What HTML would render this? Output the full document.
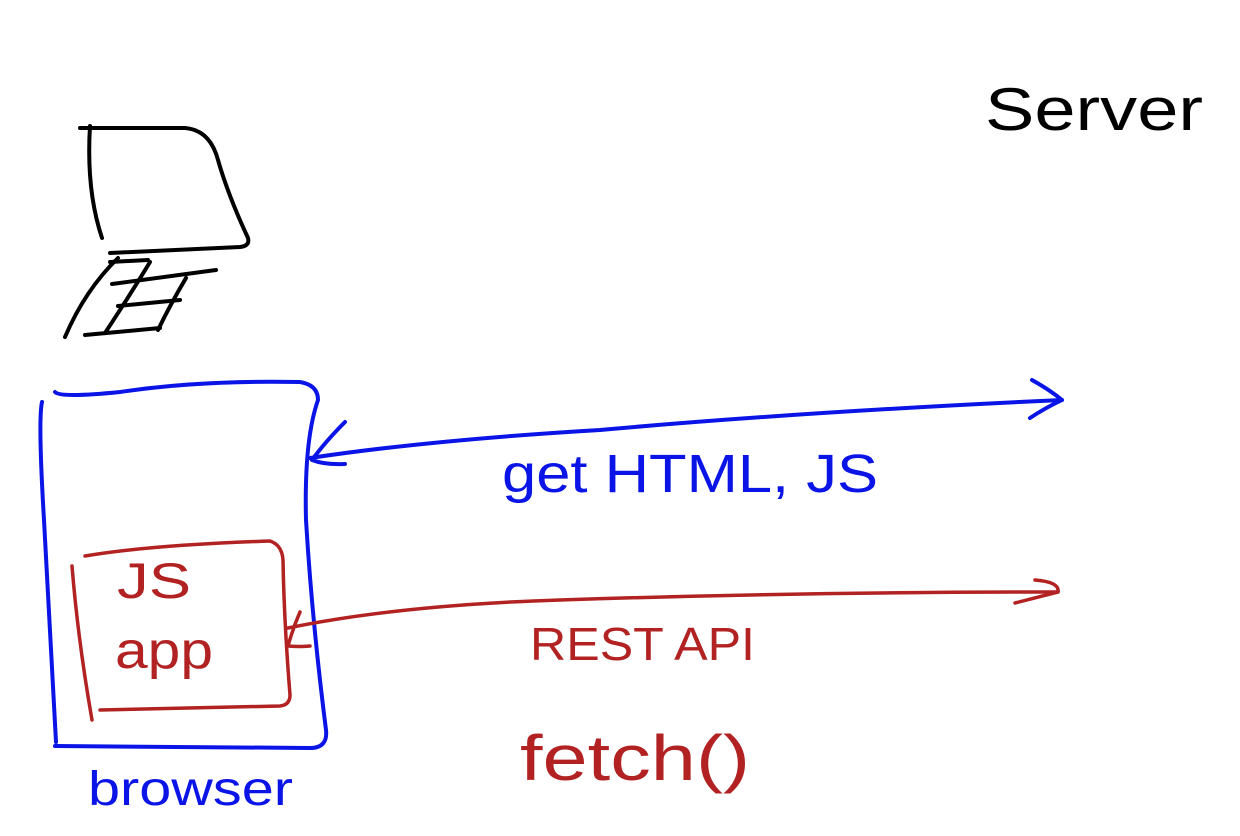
<!DOCTYPE html>
<html><head><meta charset="utf-8"><style>
html,body{margin:0;padding:0;background:#fff;}
svg{display:block;}
text{font-family:"Liberation Sans",sans-serif;}
</style></head><body>
<svg width="1240" height="836" viewBox="0 0 1240 836" xmlns="http://www.w3.org/2000/svg" fill="none" stroke-linecap="round" stroke-linejoin="round">
<g stroke="#000" stroke-width="4">
<path d="M80 128 L185 128 Q210 130 218 160 Q228 195 248 238 Q250 246 240 247 L110 253"/>
<path d="M90 126 Q86 190 102 238"/>
<path d="M118 258 Q85 290 65 337"/>
<path d="M110 262 L148 260"/>
<path d="M112 284 L216 270"/>
<path d="M150 262 Q130 295 105 333"/>
<path d="M186 278 Q170 305 158 330"/>
<path d="M118 306 L180 300"/>
<path d="M85 335 L160 328"/>
</g>
<text x="985" y="130" font-size="60" fill="#000" textLength="218" lengthAdjust="spacingAndGlyphs">Server</text>
<g stroke="#0a14e6" stroke-width="4">
<path d="M55 392 Q60 398 120 392 Q200 380 300 382 Q318 385 318 400 Q304 440 306 520 Q312 620 326 730 Q328 748 310 748 L55 746"/>
<path d="M42 402 Q38 420 44 520 Q50 640 56 742"/>
<path d="M310 458 Q430 440 600 430 Q800 412 1062 400"/>
<path d="M1032 380 Q1050 390 1062 400 Q1045 408 1030 418"/>
<path d="M345 422 Q325 442 312 460 Q325 465 345 464"/>
</g>
<text x="502" y="492" font-size="54" fill="#0a14e6" textLength="376" lengthAdjust="spacingAndGlyphs">get HTML, JS</text>
<text x="88" y="805" font-size="48" fill="#0a14e6" textLength="205" lengthAdjust="spacingAndGlyphs">browser</text>
<g stroke="#b22222" stroke-width="3.5">
<path d="M85 556 Q150 545 270 541 Q282 545 283 560 Q284 620 290 695 Q290 705 280 706 L100 710"/>
<path d="M72 566 Q78 640 92 720"/>
<path d="M288 628 Q400 605 560 600 Q800 592 1058 592"/>
<path d="M1035 580 Q1060 582 1058 592 L1015 603"/>
<path d="M300 612 Q293 628 288 646 Q300 647 310 646"/>
</g>
<text x="117" y="598" font-size="50" fill="#b22222" textLength="74" lengthAdjust="spacingAndGlyphs">JS</text>
<text x="115" y="668" font-size="52" fill="#b22222" textLength="98" lengthAdjust="spacingAndGlyphs">app</text>
<text x="530" y="660" font-size="46" fill="#b22222" textLength="225" lengthAdjust="spacingAndGlyphs">REST API</text>
<text x="520" y="780" font-size="64" fill="#b22222" textLength="230" lengthAdjust="spacingAndGlyphs">fetch()</text>
</svg>
</body></html>
